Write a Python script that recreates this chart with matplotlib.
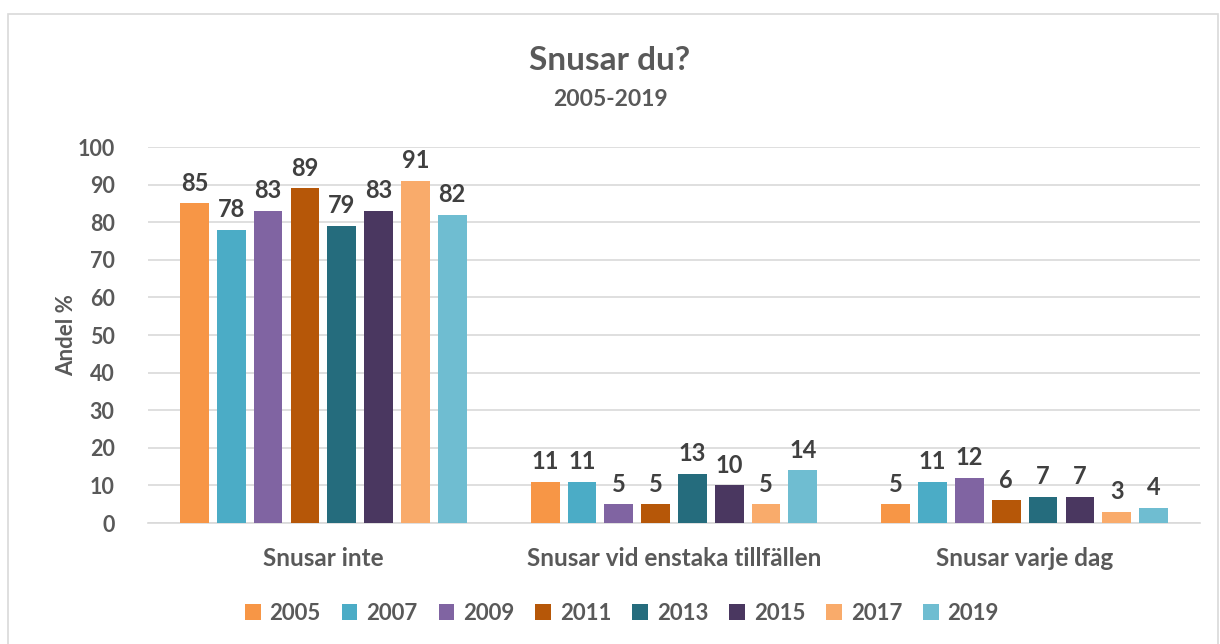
import numpy as np
import matplotlib
matplotlib.use("Agg")
import matplotlib.pyplot as plt
from matplotlib.patches import Rectangle

categories = ["Snusar inte", "Snusar vid enstaka tillfällen", "Snusar varje dag"]
years = ["2005", "2007", "2009", "2011", "2013", "2015", "2017", "2019"]
values = {
    "2005": [85, 11, 5],
    "2007": [78, 11, 11],
    "2009": [83, 5, 12],
    "2011": [89, 5, 6],
    "2013": [79, 13, 7],
    "2015": [83, 10, 7],
    "2017": [91, 5, 3],
    "2019": [82, 14, 4],
}
colors = ["#F79646", "#4BACC6", "#8064A2", "#B65708",
          "#256C7D", "#4A3760", "#F9AB6B", "#6FBDD1"]
yticks = list(range(0, 101, 10))

plt.rcParams["font.family"] = ["Lato", "DejaVu Sans"]
txt = "#595959"
lbl = "#404040"

fig = plt.figure(figsize=(12.2, 6.44), dpi=100)
fig.patches.append(Rectangle((8 / 1220, -0.01), 1210 / 1220, 1 - 14 / 644 + 0.01,
                             transform=fig.transFigure, fill=False,
                             edgecolor="#D9D9D9", lw=1.2))
ax = fig.add_axes([148 / 1220, 1 - 523 / 644, 1052 / 1220, 376 / 644])

x = np.arange(len(categories))
step = 0.105
bw = 0.082
for i, (yr, c) in enumerate(zip(years, colors)):
    pos = x + (i - 3.5) * step
    bars = ax.bar(pos, values[yr], width=bw, color=c, label=yr, zorder=3)
    for b, v in zip(bars, values[yr]):
        ax.text(b.get_x() + b.get_width() / 2, v + 2.3, str(v),
                ha="center", va="bottom", fontsize=17, fontweight="bold",
                color=lbl)

ax.set_xlim(-0.5, 2.5)
ax.set_ylim(0, 100)
ax.set_yticks(yticks)
ax.set_xticks(x)
ax.set_xticklabels(categories)
ax.grid(axis="y", color="#D9D9D9", lw=1.2, zorder=0)
for s in ["top", "right", "left"]:
    ax.spines[s].set_visible(False)
ax.spines["bottom"].set_color("#D9D9D9")
ax.spines["bottom"].set_linewidth(1.2)
ax.tick_params(axis="both", length=0, colors=txt)
ax.tick_params(axis="x", pad=17, labelsize=17.5)
ax.tick_params(axis="y", pad=24, labelsize=15.5)
for t in ax.get_xticklabels() + ax.get_yticklabels():
    t.set_fontweight("bold")
ax.set_ylabel("Andel %", fontsize=16, fontweight="bold", color=txt, labelpad=0)

fig.text(0.5, 1 - 60 / 644, "Snusar du?", ha="center", va="center",
         fontsize=24, fontweight="bold", color=txt)
fig.text(0.5, 1 - 99 / 644, "2005-2019", ha="center", va="center",
         fontsize=16.5, fontweight="bold", color=txt)

fig.legend(loc="center", bbox_to_anchor=(622 / 1220, 1 - 613 / 644), ncol=8,
           frameon=False, handlelength=0.7, handleheight=0.7, handletextpad=0.4,
           columnspacing=0.95, prop={"size": 16, "weight": "bold"},
           labelcolor=txt)

fig.savefig("out.png", dpi=100)
